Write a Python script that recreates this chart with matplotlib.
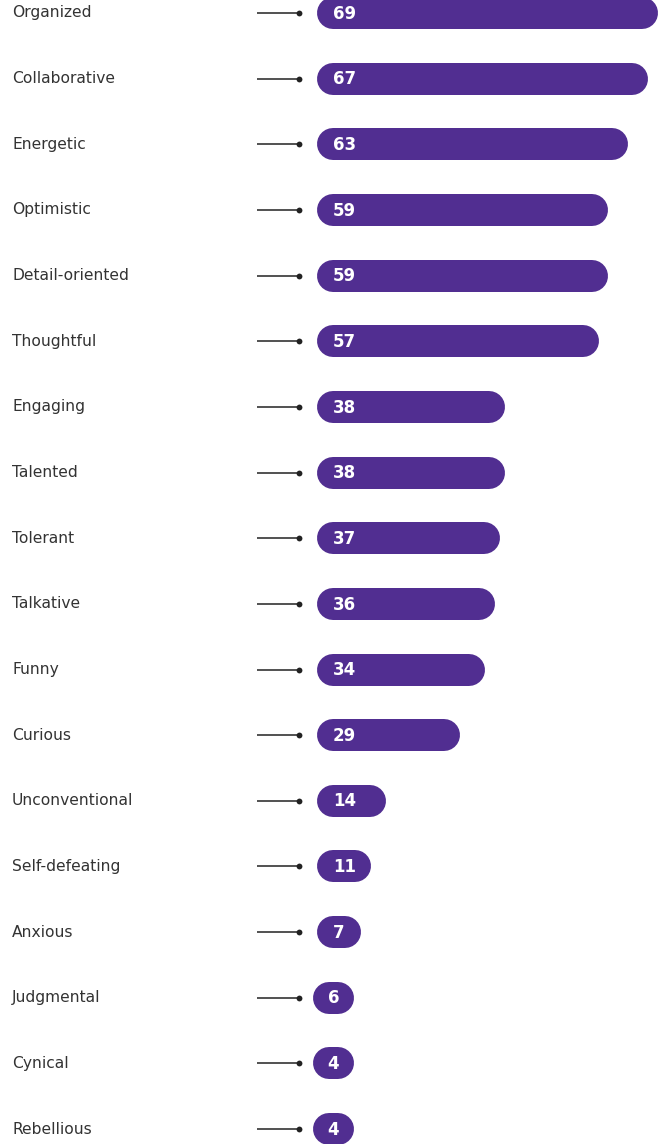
import matplotlib.pyplot as plt

traits = ['Organized', 'Collaborative', 'Energetic', 'Optimistic', 'Detail-oriented',
          'Thoughtful', 'Engaging', 'Talented', 'Tolerant', 'Talkative', 'Funny',
          'Curious', 'Unconventional', 'Self-defeating', 'Anxious', 'Judgmental',
          'Cynical', 'Rebellious']
scores = [69, 67, 63, 59, 59, 57, 38, 38, 37, 36, 34, 29, 14, 11, 7, 6, 4, 4]

W, H = 668, 1144
PX = 4.94       # pixels per score point
ROW = 65.65     # pixels per row
X0 = 317        # pixel where score 0 sits
Y0 = 13         # pixel centre of first row
DPI = 100

purple = '#512E91'
ink = '#333333'

fig = plt.figure(figsize=(W / DPI, H / DPI), dpi=DPI)
ax = fig.add_axes([0, 0, 1, 1])
ax.set_xlim(-X0 / PX, (W - X0) / PX)
ax.set_ylim((H - Y0) / ROW, -Y0 / ROW)
ax.axis('off')

bar_px = 32
rad = bar_px / 2 / PX
lw_pt = bar_px * 72 / DPI

for i, (name, v) in enumerate(zip(traits, scores)):
    ax.text(-(X0 - 12) / PX, i, name, ha='left', va='center',
            fontsize=11.2, color=ink, family='DejaVu Sans')
    # connector with dot
    ax.plot([-(X0 - 257) / PX, -(X0 - 299) / PX], [i, i], color='#222222',
            lw=1.1, solid_capstyle='butt')
    ax.plot(-(X0 - 299) / PX, i, 'o', color='#222222', ms=4.2, mec='none')

    # pill: short scores get a minimum width so the number fits
    left = 0.0
    width = v
    centred = False
    if v * PX < 32:
        left = -4 / PX
        width = 41 / PX
        centred = True
    elif v * PX < 44:
        width = 44 / PX
    ax.plot([left + rad, left + width - rad], [i, i], color=purple, lw=lw_pt,
            solid_capstyle='round')
    if centred:
        ax.text(left + width / 2, i + 0.01, str(v), ha='center', va='center',
                fontsize=12, fontweight='bold', color='white', family='DejaVu Sans')
    else:
        ax.text(left + 16 / PX, i + 0.01, str(v), ha='left', va='center',
                fontsize=12, fontweight='bold', color='white', family='DejaVu Sans')

fig.savefig('out.png', dpi=DPI)
